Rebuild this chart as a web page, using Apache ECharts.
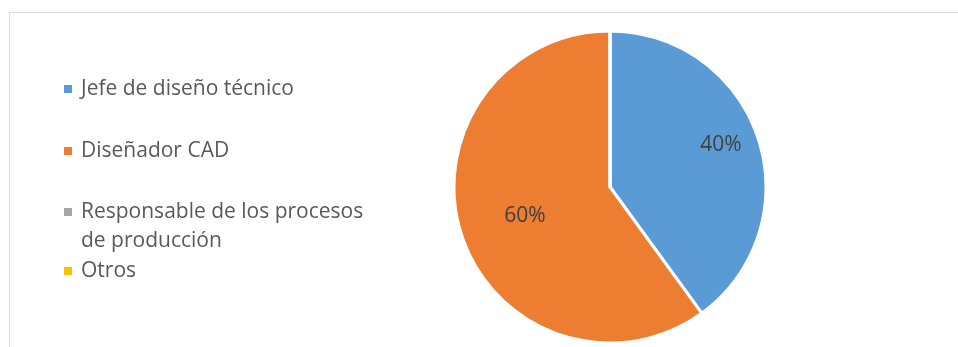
<!DOCTYPE html>
<html>
<head>
<meta charset="utf-8">
<script src="https://cdn.jsdelivr.net/npm/echarts@6/dist/echarts.min.js"></script>
<style>
  html, body { margin: 0; padding: 0; background: #fff; }
  #frame { position: absolute; left: 9px; top: 12px; width: 949px; height: 335px;
           border-top: 1px solid #d9d9d9; border-left: 1px solid #d9d9d9; box-sizing: border-box; }
  #chart { position: absolute; left: 0; top: 0; width: 958px; height: 347px; }
</style>
</head>
<body>
<div id="frame"></div>
<div id="chart"></div>
<script>
const categories = ['Jefe de diseño técnico', 'Diseñador CAD', 'Responsable de los procesos de producción', 'Otros'];
const values = [40, 60, 0, 0];
const colors = ['#5B9BD5', '#ED7D31', '#A5A5A5', '#FFC000'];
const legendLabels = ['Jefe de diseño técnico', 'Diseñador CAD', ' \nResponsable de los procesos\nde producción', 'Otros'];
const labelOffsets = [[34, -17], [-8, 4], [0, 0], [0, 0]];

const font = '"Open Sans", "Noto Sans", sans-serif';
const legendTops = [74.5, 136.5, 168.5, 256.5];

const chart = echarts.init(document.getElementById('chart'), null, { renderer: 'canvas' });

const legends = categories.map((name, i) => ({
  show: true,
  orient: 'vertical',
  left: 64,
  top: legendTops[i],
  padding: 0,
  itemWidth: 8,
  itemHeight: 8,
  icon: 'rect',
  selectedMode: false,
  itemStyle: { borderWidth: 0 },
  data: [name],
  formatter: () => legendLabels[i],
  textStyle: {
    fontFamily: font,
    fontSize: 21,
    color: '#595959',
    lineHeight: 29,
    padding: [0, 0, 0, 4]
  }
}));

const data = categories.map((name, i) => ({
  name: name,
  value: values[i],
  itemStyle: { color: colors[i] },
  label: values[i] > 0 ? { show: true, offset: labelOffsets[i] } : { show: false }
}));

chart.setOption({
  backgroundColor: 'transparent',
  animation: false,
  legend: legends,
  series: [{
    type: 'pie',
    center: [610, 187],
    radius: 156,
    startAngle: 90,
    clockwise: true,
    avoidLabelOverlap: false,
    percentPrecision: 0,
    itemStyle: { borderColor: '#ffffff', borderWidth: 3 },
    label: {
      show: true,
      position: 'inside',
      formatter: '{d}%',
      fontFamily: font,
      fontSize: 21,
      color: '#404040'
    },
    labelLine: { show: false },
    emphasis: { disabled: true },
    data: data
  }]
});
</script>
</body>
</html>
